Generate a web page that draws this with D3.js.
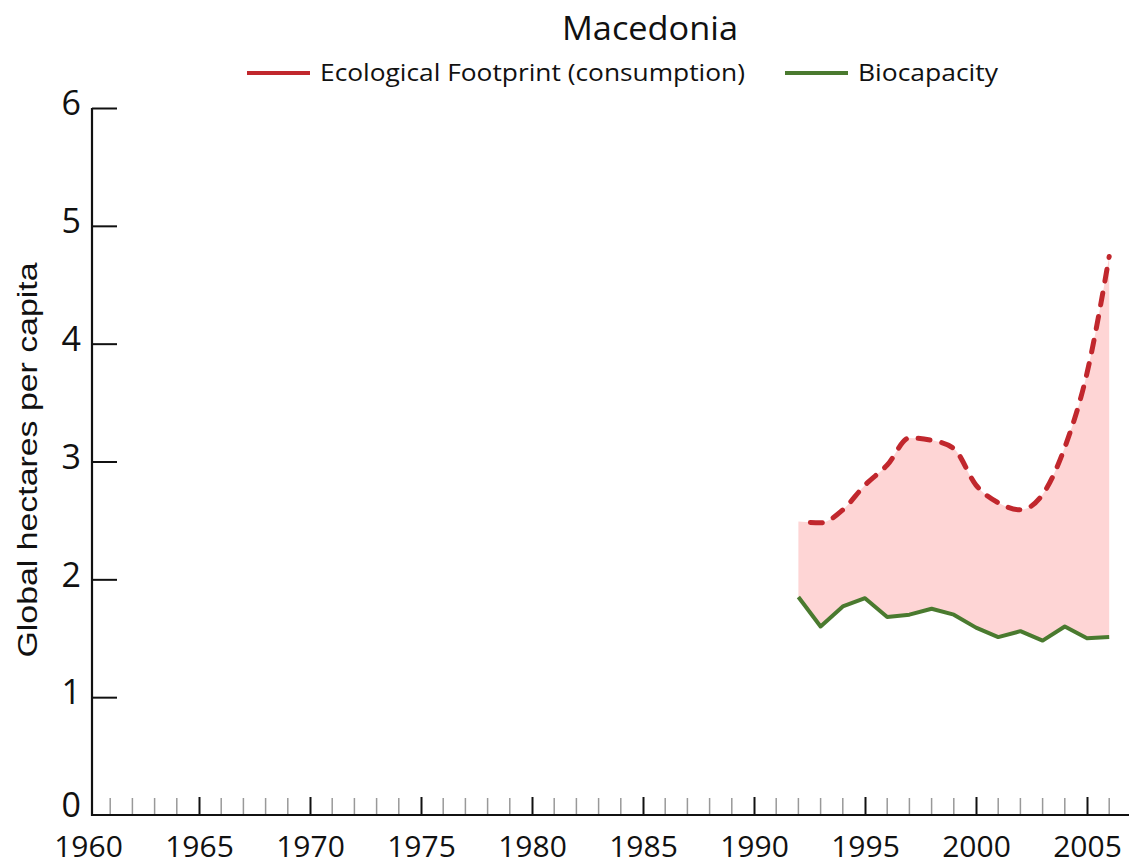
<!DOCTYPE html>
<html>
<head>
<meta charset="utf-8" />
<title>Macedonia</title>
<style>
  html, body { margin: 0; padding: 0; background: #fff; }
  #chart { width: 1129px; height: 866px; }
  .tick text { font-family: "Open Sans", "Noto Sans", sans-serif; fill: #111; }
</style>
</head>
<body>
<div id="chart"></div>
<script src="https://cdnjs.cloudflare.com/ajax/libs/d3/7.8.5/d3.min.js"></script>
<script>

// data
var years = [1992, 1993, 1994, 1995, 1996, 1997, 1998, 1999, 2000, 2001, 2002, 2003, 2004, 2005, 2006];
var footprint = [2.49, 2.48, 2.59, 2.80, 2.97, 3.20, 3.18, 3.11, 2.80, 2.65, 2.59, 2.72, 3.12, 3.75, 4.74];
var biocapacity = [1.85, 1.60, 1.77, 1.84, 1.68, 1.70, 1.75, 1.70, 1.59, 1.51, 1.56, 1.48, 1.60, 1.50, 1.51];

var yTicks = [0, 1, 2, 3, 4, 5, 6];
var xMajor = [1960, 1965, 1970, 1975, 1980, 1985, 1990, 1995, 2000, 2005];
var xMinor = d3.range(1961, 2008).filter(function(y) { return y % 5 != 0 });

var title = "Macedonia";
var legendNames = ["Ecological Footprint (consumption)", "Biocapacity"];
var yLabel = "Global hectares per capita";

var width = 1129, height = 866;
var red = "#c1272d", green = "#4a7a2f", pink = "#fed5d5";

var svg = d3.select("#chart").append("svg")
    .attr("width", width)
    .attr("height", height);

var x = d3.scaleLinear().domain([1960, 2007]).range([88, 1131.4]);
var y = d3.scaleLinear().domain([0, 6]).range([815, 108]);

var rows = years.map(function(yr, i) {
  return { year: yr, fp: footprint[i], bc: biocapacity[i] };
});

var fpLine = d3.line()
    .x(function(d) { return x(d.year) })
    .y(function(d) { return y(d.fp) })
    .curve(d3.curveMonotoneX);

var bcLine = d3.line()
    .x(function(d) { return x(d.year) })
    .y(function(d) { return y(d.bc) });

// deficit fill: smooth top edge, straight bottom edge
svg.append("path")
    .attr("fill", pink)
    .attr("d", fpLine(rows) + "L" + bcLine(rows.slice().reverse()).slice(1) + "Z");

// axes
var xAxis = svg.append("g")
    .attr("transform", "translate(0," + y(0) + ")");

xAxis.selectAll("line.minor")
    .data(xMinor)
    .enter().append("line")
    .attr("class", "minor")
    .attr("x1", function(d) { return x(d) })
    .attr("x2", function(d) { return x(d) })
    .attr("y1", 0)
    .attr("y2", -17)
    .attr("stroke", "#999")
    .attr("stroke-width", 1.5);

xAxis.call(d3.axisBottom(x).tickValues(xMajor).tickFormat(d3.format("d")).tickSize(-18).tickPadding(0));
xAxis.select(".domain").remove();
xAxis.selectAll(".tick line").filter(function(d) { return d == 1960 }).remove();
xAxis.selectAll(".tick line").attr("stroke", "#111").attr("stroke-width", 2);
xAxis.selectAll(".tick text")
    .attr("font-size", 30)
    .attr("y", 42)
    .attr("dy", null);

svg.append("line")
    .attr("x1", 92).attr("x2", width)
    .attr("y1", y(0)).attr("y2", y(0))
    .attr("stroke", "#111").attr("stroke-width", 2.2);

var yAxis = svg.append("g")
    .attr("transform", "translate(92,0)")
    .call(d3.axisLeft(y).tickValues(yTicks).tickFormat(d3.format("d")).tickSize(-25).tickPadding(11));
yAxis.select(".domain").remove();
yAxis.selectAll(".tick line").filter(function(d) { return d == 0 }).remove();
yAxis.selectAll(".tick line").attr("stroke", "#111").attr("stroke-width", 2);
yAxis.selectAll(".tick text").attr("font-size", 34).attr("dy", "0.2em");
yAxis.selectAll(".tick text").filter(function(d) { return d == 0 }).attr("dy", "0.05em");

svg.append("line")
    .attr("x1", 92).attr("x2", 92)
    .attr("y1", y(6)).attr("y2", y(0) + 1)
    .attr("stroke", "#111").attr("stroke-width", 2.2);

// series lines
svg.append("path")
    .datum(rows)
    .attr("fill", "none")
    .attr("stroke", green)
    .attr("stroke-width", 4)
    .attr("stroke-linejoin", "round")
    .attr("d", bcLine);

svg.append("path")
    .datum(rows)
    .attr("fill", "none")
    .attr("stroke", red)
    .attr("stroke-width", 5)
    .attr("stroke-linecap", "round")
    .attr("stroke-dasharray", "12,12")
    .attr("stroke-dashoffset", 12)
    .attr("d", fpLine);

// y label
svg.append("text")
    .attr("transform", "translate(37,460) rotate(-90)")
    .attr("text-anchor", "middle")
    .attr("font-family", "Liberation Sans, Arial, sans-serif")
    .attr("font-size", 27)
    .attr("fill", "#111")
    .attr("textLength", 395)
    .attr("lengthAdjust", "spacingAndGlyphs")
    .text(yLabel);

// title and legend
svg.append("text")
    .attr("x", 650).attr("y", 40)
    .attr("text-anchor", "middle")
    .attr("font-family", "Open Sans, Noto Sans, sans-serif")
    .attr("font-size", 32)
    .attr("fill", "#111")
    .attr("textLength", 176)
    .attr("lengthAdjust", "spacingAndGlyphs")
    .text(title);

var legend = [
  { name: legendNames[0], color: red, x: 247, w: 425 },
  { name: legendNames[1], color: green, x: 785, w: 140 }
];

var lg = svg.selectAll("g.legend")
    .data(legend)
    .enter().append("g")
    .attr("class", "legend")
    .attr("transform", function(d) { return "translate(" + d.x + ",73)" });

lg.append("line")
    .attr("x1", 0).attr("x2", 63)
    .attr("stroke", function(d) { return d.color })
    .attr("stroke-width", 4);

lg.append("text")
    .attr("x", 73).attr("y", 8)
    .attr("font-family", "Open Sans, Noto Sans, sans-serif")
    .attr("font-size", 23)
    .attr("fill", "#111")
    .attr("textLength", function(d) { return d.w })
    .attr("lengthAdjust", "spacingAndGlyphs")
    .text(function(d) { return d.name });

</script>
</body>
</html>
